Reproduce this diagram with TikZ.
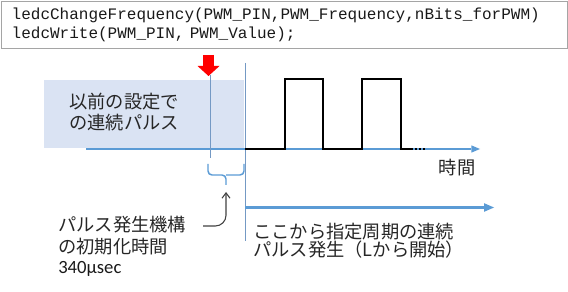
\documentclass[tikz,border=0pt]{standalone}
\usepackage{fontspec}
\usepackage{tikz}
\usetikzlibrary{positioning,arrows.meta}
\newfontfamily\jpfont{Noto Sans CJK JP}
\newfontfamily\codefont{Liberation Mono}
\newfontfamily\numfont{Carlito}
\definecolor{caxis}{RGB}{91,155,213}
\definecolor{cguide}{RGB}{116,153,196}
\definecolor{cprev}{RGB}{218,227,243}
\definecolor{cframe}{RGB}{165,165,165}
\colorlet{cnote}{black!75}
\tikzset{
  codebox/.style={draw=cframe, line width=1.1pt, anchor=north west, align=left,
                  text width=409.5pt, inner xsep=7.5pt, inner ysep=0pt, minimum height=35.25pt,
                  font=\codefont\fontsize{12}{14.25}\selectfont, text=black!90},
  jtext/.style={font=\jpfont\fontsize{13.7}{#1}\selectfont, align=left, inner sep=0pt, text=black!85},
  jtext/.default=15.75pt,
  numtext/.style={font=\numfont\fontsize{14}{16}\selectfont, inner sep=0pt, text=black!90},
  timeaxis/.style={-{Triangle[length=6.5pt,width=5.5pt,line width=0pt]}, line width=1.1pt, caxis},
  bigaxis/.style={-{Triangle[length=7.5pt,width=6.5pt,line width=0pt]}, line width=1.9pt, caxis},
  guide/.style={line width=0.75pt, cguide},
  pulse/.style={line width=1.6pt, black},
  callmark/.style={-{Triangle[length=7.5pt,width=16.5pt,line width=0pt]}, line width=8.25pt, red},
  spanbrace/.style={line width=1.1pt, caxis, rounded corners=3pt},
  callnote/.style={-{Straight Barb[length=4pt,width=6pt]}, line width=0.8pt, cnote, rounded corners=8pt},
}

\begin{document}
\begin{tikzpicture}[x=0.75pt, y=-0.75pt]
\useasboundingbox (0,0) rectangle (568,292);

% code of the call
\node[codebox] (code) at (1,1)
  {ledcChangeFrequency(PWM\_PIN,PWM\_Frequency,nBits\_forPWM)\\ledcWrite(PWM\_PIN, PWM\_Value);};

% pulses of the previous setting
\fill[cprev] (44,80) rectangle (244,148.5);
\node[jtext, anchor=west] (prevpulse) at (69,112.5) {以前の設定で\\の連続パルス};

% time axis
\coordinate (t0) at (86,149);
\coordinate (t1) at (480,149);
\draw[timeaxis] (t0) -- (t1);
\node[jtext] (timelbl) at (457,168) {時間};

% moment of the call and start of the new pulses
\coordinate (callTop) at (210,75);
\coordinate (callBot) at (210,158);
\draw[guide] (callTop) -- (callBot);
\coordinate (newTop) at (245.3,63);
\coordinate (newBot) at (245.3,241);
\draw[guide] (newTop) -- (newBot);
\coordinate (mark0) at (208.5,55);
\coordinate (mark1) at (208.5,76);
\draw[callmark] (mark0) -- (mark1);

% new pulse train, starting low
\def\lo{149}\def\hi{79}
\draw[pulse] (245.3,\lo) \foreach \r/\f in {285/323, 362/401} { -- (\r,\lo) -- (\r,\hi) -- (\f,\hi) -- (\f,\lo) } -- (413,\lo);
\draw[pulse, dash pattern=on 1.5pt off 1.5pt] (415,\lo) -- (426,\lo);

\coordinate (n0) at (245.3,207.5);
\coordinate (n1) at (494,207.5);
\draw[bigaxis] (n0) -- (n1);
\node[jtext=13.2pt, anchor=west] (newpulse) at (253,240.5)
  {ここから指定周期の連続\\パルス発生（Lから開始）};

% initialisation time
\draw[spanbrace] (208,164) |- (226,175) -- (226,185) (226,175) -| (244,164);
\coordinate (braceTip) at (226,192);
\node[jtext=16.5pt, anchor=north west] (initdesc) at (58,216) {パルス発生機構\\の初期化時間};
\node[numtext, below right=4.5pt and 0pt of initdesc.south west] (inittime) {340μsec};
\coordinate (noteStart) at (203,226);
\draw[callnote] (noteStart) -| (braceTip);
\end{tikzpicture}
\end{document}
